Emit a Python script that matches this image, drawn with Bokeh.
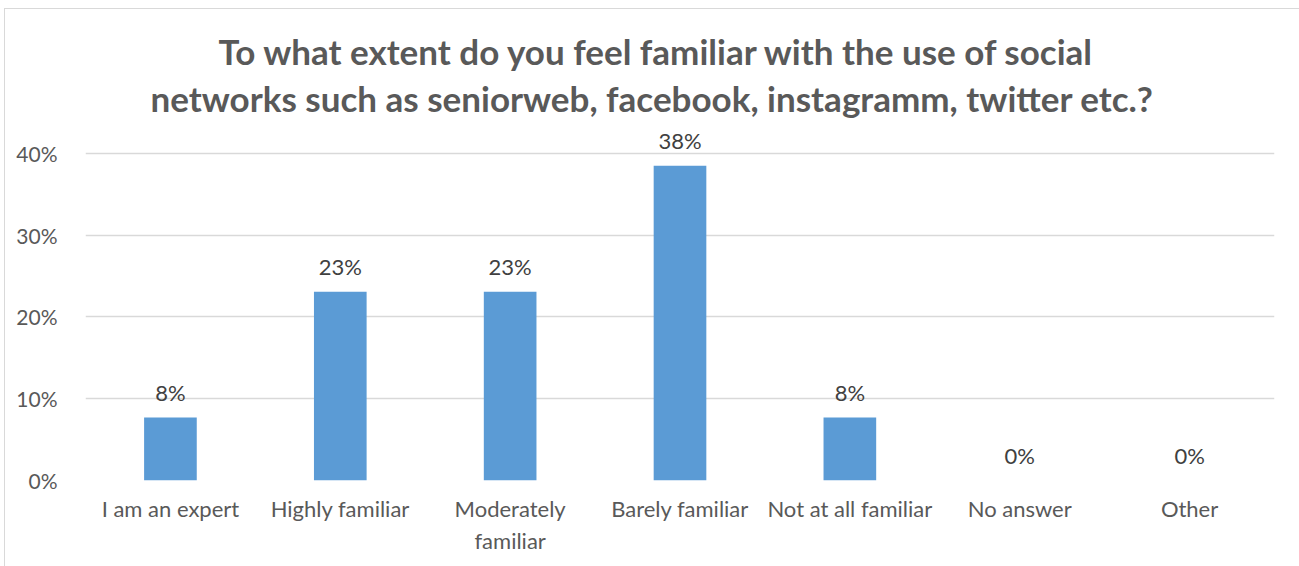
from bokeh.plotting import figure
from bokeh.models import ColumnDataSource, NumeralTickFormatter, FixedTicker, Range1d, Title
from bokeh.embed import file_html
from bokeh.resources import INLINE
from bokeh.core.properties import value

categories = ["I am an expert", "Highly familiar", "Moderately\nfamiliar", "Barely familiar",
              "Not at all familiar", "No answer", "Other"]
shares = [0.0769, 0.2308, 0.2308, 0.3846, 0.0769, 0.0, 0.0]
labels = ["8%", "23%", "23%", "38%", "8%", "0%", "0%"]
y_ticks = [0, 0.1, 0.2, 0.3, 0.4]

title_lines = ["To what extent do you feel familiar with the use of social",
               "networks such as seniorweb, facebook, instagramm, twitter etc.?"]
title_offsets = [133, 65]

FONT = "Lato"
src = ColumnDataSource(dict(cat=categories, v=shares, lab=labels))

p = figure(x_range=categories, y_range=Range1d(0, 0.44), width=1295, height=558,
           output_backend="svg", toolbar_location=None,
           min_border_left=80, min_border_right=26, min_border_bottom=87, min_border_top=0)
p.margin = (8, 0, 0, 4)
p.styles = {"border-top": "1px solid #d9d9d9", "border-left": "1px solid #d9d9d9"}

for t, off in reversed(list(zip(title_lines, title_offsets))):
    p.add_layout(Title(text=t, align="left", text_font=FONT, text_font_size="35px",
                       text_font_style="bold", text_color="#595959",
                       offset=off, standoff=3), "above")
p.add_layout(Title(text=" ", text_font=FONT, text_font_size="12px", offset=0, standoff=0), "above")

p.vbar(x="cat", top="v", width=0.31, source=src, color="#5B9BD5", line_color=None)
p.text(x="cat", y="v", text="lab", source=src, text_align="center", text_baseline="bottom",
       y_offset=-12, text_font=value(FONT), text_font_size="22px", text_color="#404040")

p.outline_line_color = None
p.xgrid.grid_line_color = None
p.ygrid.grid_line_color = "#d9d9d9"
p.ygrid.grid_line_width = 1.3
p.yaxis.ticker = FixedTicker(ticks=y_ticks)
p.yaxis.formatter = NumeralTickFormatter(format="0%")
for ax in (p.xaxis, p.yaxis):
    ax.axis_line_color = None
    ax.major_tick_line_color = None
    ax.minor_tick_line_color = None
    ax.major_label_text_font = FONT
    ax.major_label_text_color = "#595959"
p.yaxis.major_label_text_font_size = "21px"
p.xaxis.major_label_text_font_size = "22px"
p.yaxis.major_label_standoff = 22
p.xaxis.major_label_standoff = 8

open("out.html", "w").write(file_html(p, INLINE))
